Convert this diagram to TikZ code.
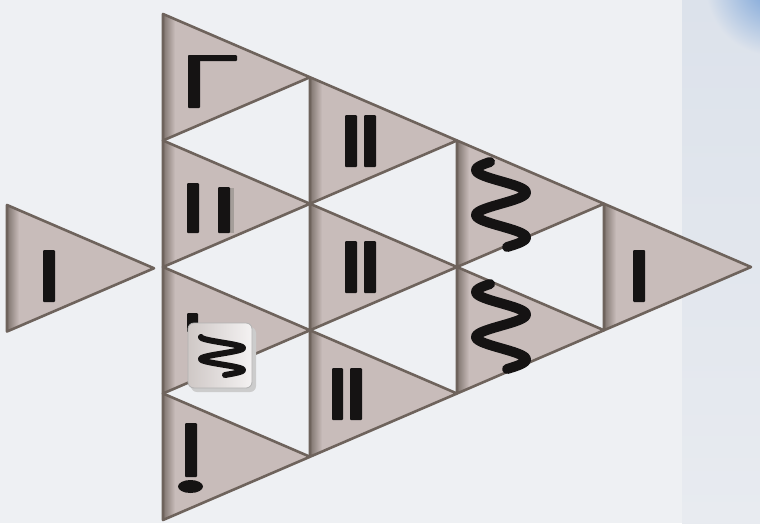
\documentclass[tikz,border=0pt]{standalone}
\definecolor{bgcol}{HTML}{EEF0F3}
\definecolor{panelA}{HTML}{DCE2EB}
\definecolor{panelB}{HTML}{E8EBF0}
\definecolor{cornerblue}{HTML}{6E9CD6}
\definecolor{tilefill}{HTML}{C8BCBA}
\definecolor{tileedge}{HTML}{7F746E}
\definecolor{tileline}{HTML}{6E635C}
\definecolor{ink}{HTML}{151313}
\definecolor{cardA}{HTML}{CFC8C6}
\definecolor{cardB}{HTML}{F4F2F2}
\tikzset{
  tile/.pic={
    \begin{scope}
      \clip (0,0)--(147,63.25)--(0,126.5)--cycle;
      \fill[tilefill] (0,0) rectangle (147,126.5);
      \shade[left color=tileedge, right color=tilefill] (0,0) rectangle (12,126.5);
    \end{scope}
    \draw[tileline, line width=2.6pt, line join=round] (0,0)--(147,63.25)--(0,126.5)--cycle;
  },
  bar/.style={fill=ink, rounded corners=1pt},
  squig/.style={draw=ink, line cap=round, line join=round}
}
\begin{document}
\begin{tikzpicture}[x=1pt,y=-1pt]
\useasboundingbox (0,0) rectangle (760,523);
% background
\fill[bgcol] (0,0) rectangle (760,523);
\begin{scope}
  \clip (0,0) rectangle (760,523);
  \shade[top color=panelA, bottom color=panelB] (682,0) rectangle (760,523);
  \shade[inner color=cornerblue, outer color=panelA] (775,-15) circle (70);
\end{scope}
% tiles: column 1
\pic (t11) at (163,14) {tile};
\pic (t12) at (163,140.5) {tile};
\pic (t13) at (163,267) {tile};
\pic (t14) at (163,393.5) {tile};
% column 2
\pic (t21) at (310,77.25) {tile};
\pic (t22) at (310,203.75) {tile};
\pic (t23) at (310,330.25) {tile};
% column 3
\pic (t31) at (457,140.5) {tile};
\pic (t32) at (457,267) {tile};
% column 4
\pic (t41) at (604,203.75) {tile};
% isolated tile
\pic (t00) at (7,205) {tile};
% symbols
% Gamma
\fill[bar] (188,55) rectangle (200,108);
\fill[bar] (188,55) rectangle (237,61);
% I I
\fill[bar] (187,183) rectangle (199,233);
\fill[tileedge!70] (229,188) rectangle (234,233);
\fill[bar] (218,187) rectangle (230,233);
% II col2
\fill[bar] (345,115) rectangle (357,167);
\fill[bar] (364,115) rectangle (376,167);
\fill[bar] (345,241) rectangle (357,293);
\fill[bar] (364,241) rectangle (376,293);
\fill[bar] (332,368) rectangle (343,420);
\fill[bar] (350,368) rectangle (362,420);
% I col4 and isolated
\fill[bar] (633,250) rectangle (645,302);
\fill[bar] (43,250) rectangle (55,302);
% squiggles col3
\draw[squig, line width=10pt] plot[domain=162:247, samples=80, smooth] ({501-25*cos(180*(\x-170)/22.5)}, \x);
\draw[squig, line width=10pt] plot[domain=284:369, samples=80, smooth] ({501-25*cos(180*(\x-292)/22.5)}, \x);
% partial bar and card
\fill[bar] (187,313) rectangle (198,332);
\fill[gray!40] (191,327) [rounded corners=6pt] rectangle (256,392);
\shade[left color=cardA, right color=cardB, rounded corners=6pt, draw=gray!60, line width=0.8pt] (188,323) rectangle (252,388);
\draw[squig, line width=6pt] plot[domain=337:375, samples=80, smooth] ({222-21*cos(180*(\x-337)/11)}, \x);
% exclamation
\fill[bar] (185,423) rectangle (197,477);
\fill[ink] (190.5,486.5) ellipse [x radius=12.5, y radius=6.5];
\end{tikzpicture}
\end{document}
